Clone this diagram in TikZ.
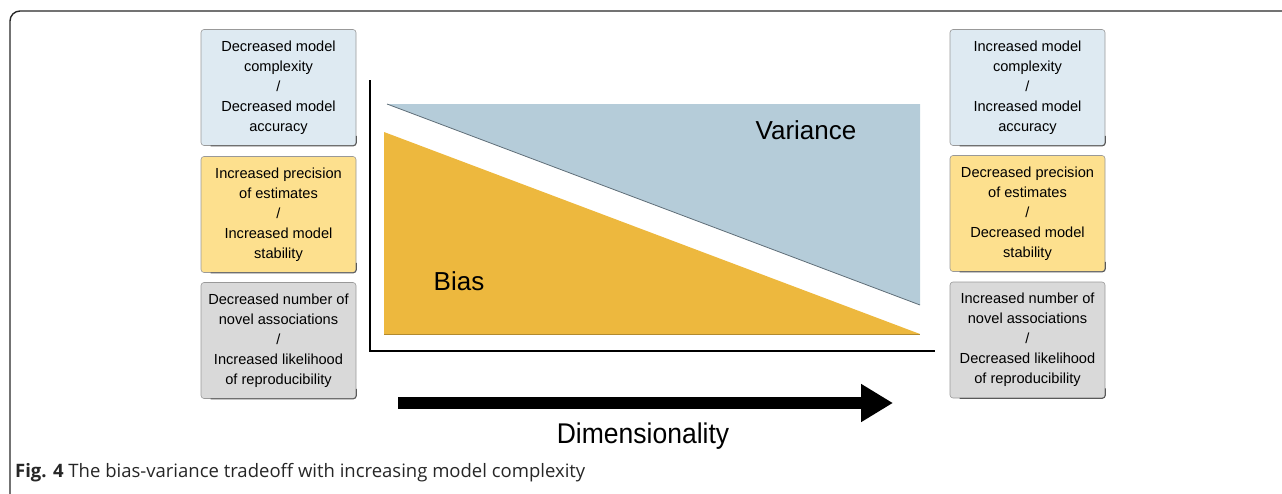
\documentclass[tikz,border=0pt]{standalone}
\usepackage{fontspec}
\setmainfont{Liberation Sans}
\newfontfamily\capfont{Open Sans}
\usetikzlibrary{arrows.meta}
\definecolor{boxblue}{RGB}{222,234,242}
\definecolor{boxyellow}{RGB}{253,224,142}
\definecolor{boxgray}{RGB}{217,217,217}
\definecolor{varfill}{RGB}{181,204,217}
\definecolor{biasfill}{RGB}{237,184,62}
\definecolor{varedge}{RGB}{95,110,120}
\definecolor{frameline}{RGB}{40,40,40}
\tikzset{
  infobox/.style={rounded corners=3pt, minimum width=155pt, minimum height=116pt,
    inner sep=0pt, align=center, font=\fontsize{14.6}{20}\selectfont,
    draw=black!40, line width=0.6pt},
  boxshade/.style={draw=black!65, line width=1pt, rounded corners=3pt},
  bigtext/.style={font=\fontsize{26}{30}\selectfont, inner sep=0pt},
  axisline/.style={line width=1.8pt, black},
}
\begin{document}
\begin{tikzpicture}[x=1pt,y=-1pt]
\useasboundingbox (0,0) rectangle (1282,493);
% frame
\draw[frameline, line width=1.4pt, rounded corners=10pt] (10,494) -- (10,11) -- (1283,11);
% triangles
\coordinate (vA) at (387,104);
\coordinate (vB) at (920,104);
\coordinate (vC) at (920,305);
\fill[varfill] (vA) -- (vB) -- (vC) -- cycle;
\draw[varedge, line width=0.8pt] (vA) -- (vC);
\coordinate (bA) at (384,132);
\coordinate (bB) at (384,334);
\coordinate (bC) at (920,334);
\fill[biasfill] (bA) -- (bB) -- (bC) -- cycle;
\draw[biasfill!75!black, line width=0.6pt] (bB) -- (bC);
% axes
\coordinate (ytop) at (370,80);
\coordinate (orig) at (370,351);
\coordinate (xend) at (935,351);
\draw[axisline] (ytop) -- (orig) -- (xend);
% labels
\node[bigtext] (bias) at (459,281) {Bias};
\node[bigtext] (var) at (806,130) {Variance};
% arrow
\coordinate (arS) at (398,403);
\coordinate (arE) at (893,403);
\draw[line width=12.5pt, -{Triangle[length=32pt,width=36pt]}] (arS) -- (arE);
\node[font=\fontsize{28.5}{32}\selectfont, inner sep=0pt] (dim) at (643,436) {\scalebox{0.93}[1]{Dimensionality}};
% left boxes
\node[infobox, fill=boxblue] (l1) at (278.5,87.5) {Decreased model\\complexity\\/\\Decreased model\\accuracy};
\node[infobox, fill=boxyellow] (l2) at (278.5,214.5) {Increased precision\\of estimates\\/\\Increased model\\stability};
\node[infobox, fill=boxgray] (l3) at (278.5,340.5) {Decreased number of\\novel associations\\/\\Increased likelihood\\of reproducibility};
% right boxes
\node[infobox, fill=boxblue] (r1) at (1027.5,87.5) {Increased model\\complexity\\/\\Increased model\\accuracy};
\node[infobox, fill=boxyellow] (r2) at (1027.5,213.5) {Decreased precision\\of estimates\\/\\Decreased model\\stability};
\node[infobox, fill=boxgray] (r3) at (1027.5,340) {Increased number of\\novel associations\\/\\Decreased likelihood\\of reproducibility};
% darker bottom/right edges of boxes
\foreach \b in {l1,l2,l3,r1,r2,r3}{
  \draw[boxshade] ([yshift=10pt]\b.south east) -- (\b.south east) -- ([xshift=10pt]\b.south west);
}
% caption
\node[anchor=base west, inner sep=0pt, font=\capfont\fontsize{18.5}{22}\selectfont, text=black!85] (cap) at (15,477) {\textbf{Fig. 4} The bias-variance tradeoff with increasing model complexity};
\end{tikzpicture}
\end{document}
